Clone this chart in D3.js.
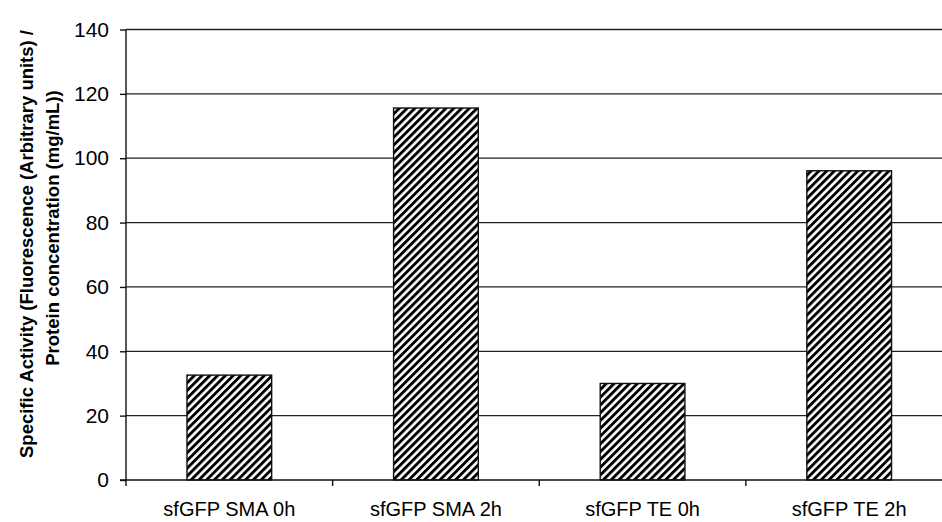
<!DOCTYPE html>
<html>
<head>
<meta charset="utf-8">
<script src="https://cdn.jsdelivr.net/npm/d3@7"></script>
<style>
  html, body { margin: 0; padding: 0; background: #fff; }
  svg { display: block; font-family: "Liberation Sans", Arial, sans-serif; }
</style>
</head>
<body>
<svg id="chart" width="942" height="522"></svg>
<script>
// Specific activity of sfGFP samples
const categories = ["sfGFP SMA 0h", "sfGFP SMA 2h", "sfGFP TE 0h", "sfGFP TE 2h"];
const values = [32.6, 115.6, 30.0, 96.1];
const yTicks = [0, 20, 40, 60, 80, 100, 120, 140];
const yTitleLines = ["Specific Activity (Fluorescence (Arbitrary units) /", "Protein concentration (mg/mL))"];

const svg = d3.select("#chart");

const plot = { left: 126, right: 952.5, top: 29.5, bottom: 480 };

const y = d3.scaleLinear().domain([0, 140]).range([plot.bottom, plot.top]);
const x = d3.scaleBand().domain(categories).range([plot.left, plot.right]).padding(0);
const barW = x.bandwidth() * 0.41;

// diagonal hatch fill
const defs = svg.append("defs");
const pat = defs.append("pattern")
  .attr("id", "hatch")
  .attr("patternUnits", "userSpaceOnUse")
  .attr("width", 5.5).attr("height", 5.5)
  .attr("patternTransform", "rotate(45)");
pat.append("rect").attr("width", 5.5).attr("height", 5.5).attr("fill", "#fff");
pat.append("rect").attr("width", 2.9).attr("height", 5.5).attr("fill", "#000");

// horizontal gridlines
svg.append("g").selectAll("line")
  .data(yTicks.filter(d => d > 0))
  .join("line")
  .attr("x1", plot.left).attr("x2", plot.right)
  .attr("y1", d => y(d)).attr("y2", d => y(d))
  .attr("stroke", "#222").attr("stroke-width", 1.3);

// bars
svg.append("g").selectAll("rect")
  .data(values)
  .join("rect")
  .attr("x", (d, i) => x(categories[i]) + (x.bandwidth() - barW) / 2)
  .attr("width", barW)
  .attr("y", d => y(d))
  .attr("height", d => y(0) - y(d))
  .attr("fill", "url(#hatch)")
  .attr("stroke", "#111").attr("stroke-width", 1.4);

// y axis
const yAxis = d3.axisLeft(y).tickValues(yTicks).tickSize(6).tickPadding(11);
const gy = svg.append("g").attr("transform", `translate(${plot.left},0)`).call(yAxis);
gy.attr("font-size", null).attr("font-family", null);
gy.select(".domain").remove();
gy.selectAll(".tick line").attr("stroke", "#111").attr("stroke-width", 1.4);
gy.selectAll(".tick text").style("font-size", "21px").attr("fill", "#000");
svg.append("line")
  .attr("x1", plot.left).attr("x2", plot.left)
  .attr("y1", plot.top).attr("y2", plot.bottom + 6)
  .attr("stroke", "#111").attr("stroke-width", 1.4);

// x axis
svg.append("line")
  .attr("x1", plot.left - 6).attr("x2", plot.right)
  .attr("y1", plot.bottom).attr("y2", plot.bottom)
  .attr("stroke", "#111").attr("stroke-width", 1.4);
svg.append("g").selectAll("line")
  .data(categories.slice(1))
  .join("line")
  .attr("x1", d => x(d)).attr("x2", d => x(d))
  .attr("y1", plot.bottom).attr("y2", plot.bottom + 6)
  .attr("stroke", "#111").attr("stroke-width", 1.4);
svg.append("g").selectAll("text")
  .data(categories)
  .join("text")
  .attr("x", d => x(d) + x.bandwidth() / 2)
  .attr("y", 516)
  .attr("text-anchor", "middle")
  .style("font-size", "20px")
  .text(d => d);

// y title, two lines
const titleCenters = [244, 228];
svg.append("g").selectAll("text")
  .data(yTitleLines)
  .join("text")
  .attr("transform", (d, i) => `translate(${33 + i * 26},${titleCenters[i]}) rotate(-90)`)
  .attr("text-anchor", "middle")
  .style("font-size", "18.5px")
  .attr("font-weight", "bold")
  .text(d => d);
</script>
</body>
</html>
